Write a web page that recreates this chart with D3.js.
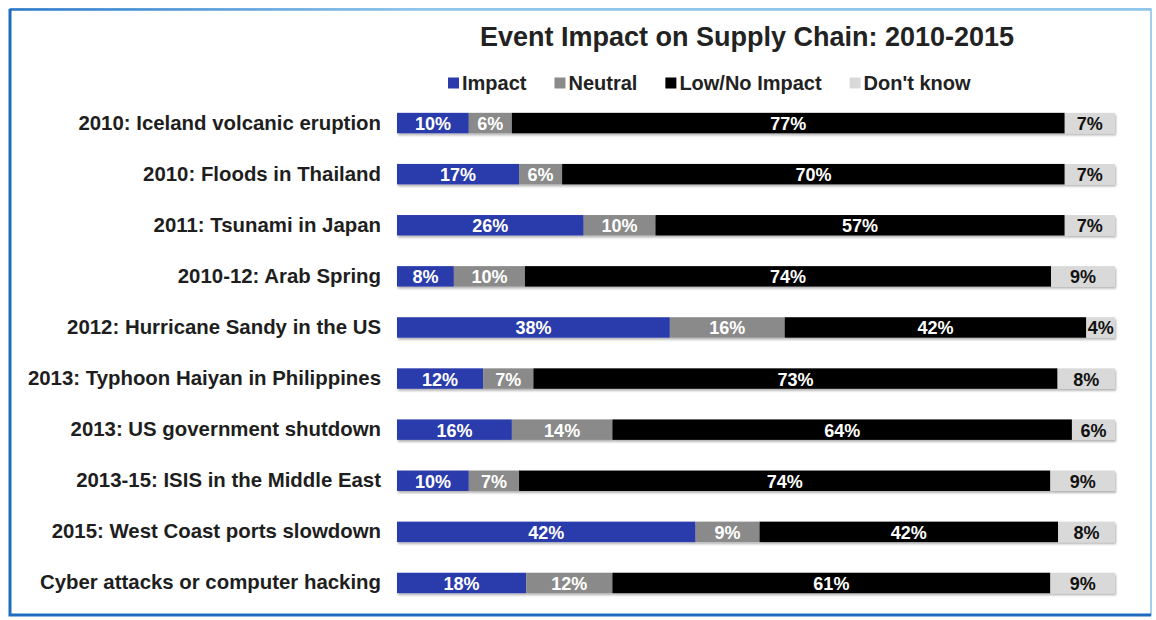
<!DOCTYPE html>
<html>
<head>
<meta charset="utf-8">
<script src="https://cdn.jsdelivr.net/npm/d3@7/dist/d3.min.js"></script>
<style>
  html, body { margin: 0; padding: 0; background: #ffffff; }
  svg { display: block; font-family: "Liberation Sans", Arial, sans-serif; }
</style>
</head>
<body>
<svg id="chart" width="1156" height="620"></svg>
<script>
// Survey results: share of respondents per event (percent)
const categories = [
  "2010: Iceland volcanic eruption",
  "2010: Floods in Thailand",
  "2011: Tsunami in Japan",
  "2010-12: Arab Spring",
  "2012: Hurricane Sandy in the US",
  "2013: Typhoon Haiyan in Philippines",
  "2013: US government shutdown",
  "2013-15: ISIS in the Middle East",
  "2015: West Coast ports slowdown",
  "Cyber attacks or computer hacking"
];
const impact    = [10, 17, 26, 8, 38, 12, 16, 10, 42, 18];
const neutral   = [6, 6, 10, 10, 16, 7, 14, 7, 9, 12];
const lowImpact = [77, 70, 57, 74, 42, 73, 64, 74, 42, 61];
const dontKnow  = [7, 7, 7, 9, 4, 8, 6, 9, 8, 9];

const seriesNames = ["Impact", "Neutral", "Low/No Impact", "Don't know"];
const seriesColors = ["#2b3bab", "#8a8a8a", "#000000", "#d9d9d9"];
const labelColors = ["#ffffff", "#ffffff", "#ffffff", "#111111"];
const titleText = "Event Impact on Supply Chain: 2010-2015";

const svg = d3.select("#chart");
const defs = svg.append("defs");

// Frame: light outline, darker left/bottom edges, top edge fading out
const grad = defs.append("linearGradient").attr("id", "topEdge")
  .attr("gradientUnits", "userSpaceOnUse")
  .attr("x1", 10).attr("y1", 0).attr("x2", 420).attr("y2", 0);
grad.append("stop").attr("offset", "0%").attr("stop-color", "#2a78c8");
grad.append("stop").attr("offset", "100%").attr("stop-color", "#8cc4ec");

svg.append("rect")
  .attr("x", 10).attr("y", 9).attr("width", 1141).attr("height", 606)
  .attr("fill", "#ffffff").attr("stroke", "#86bfea").attr("stroke-width", 1.5);
svg.append("line")
  .attr("x1", 10).attr("y1", 9.5).attr("x2", 1151).attr("y2", 9.5)
  .attr("stroke", "url(#topEdge)").attr("stroke-width", 2.5);
svg.append("path")
  .attr("d", "M10,9 L10,615 L1151,615")
  .attr("fill", "none").attr("stroke", "#1f6cbf").attr("stroke-width", 3);

// Shadow under the bars
const f = defs.append("filter").attr("id", "barShadow")
  .attr("x", "-5%").attr("y", "-30%").attr("width", "110%").attr("height", "170%");
f.append("feDropShadow").attr("dx", 1).attr("dy", 2)
  .attr("stdDeviation", 1.2).attr("flood-color", "#000").attr("flood-opacity", 0.3);

// Build rows: normalised to 100% like a 100% stacked bar
const rows = categories.map((c, i) => {
  const vals = [impact[i], neutral[i], lowImpact[i], dontKnow[i]];
  const total = d3.sum(vals);
  let acc = 0;
  const segs = vals.map((v, k) => {
    const s = { key: k, value: v, x0: acc / total * 100, x1: (acc + v) / total * 100 };
    acc += v;
    return s;
  });
  return { category: c, segs };
});

const x = d3.scaleLinear().domain([0, 100]).range([397, 1115]);
const y = d3.scaleBand().domain(categories).range([97.5, 608.5])
  .paddingInner(0.6).paddingOuter(0.3);

// Title
svg.append("text")
  .attr("x", 747).attr("y", 46)
  .attr("text-anchor", "middle")
  .attr("font-size", 27).attr("font-weight", "bold").attr("fill", "#222")
  .text(titleText);

// Legend
const legend = svg.append("g");
let lx = 448;
seriesNames.forEach((name, k) => {
  legend.append("rect")
    .attr("x", lx).attr("y", 77.5).attr("width", 11).attr("height", 11)
    .attr("fill", seriesColors[k]);
  const t = legend.append("text")
    .attr("x", lx + 14).attr("y", 83)
    .attr("dominant-baseline", "central")
    .attr("font-size", 20).attr("font-weight", "bold").attr("fill", "#222")
    .text(name);
  lx += 14 + t.node().getComputedTextLength() + 28;
});

// Category axis labels
const yAxis = svg.append("g")
  .attr("transform", "translate(381,0)")
  .call(d3.axisLeft(y).tickSize(0).tickPadding(0));
yAxis.select(".domain").remove();
yAxis.selectAll("text")
  .attr("font-size", 20.4).attr("font-weight", "bold").attr("fill", "#1e1e1e")
  .attr("font-family", "Liberation Sans, Arial, sans-serif");

// Bars
const rowG = svg.append("g").selectAll("g.row")
  .data(rows).join("g")
  .attr("class", "row")
  .attr("transform", d => `translate(0,${y(d.category)})`);

rowG.append("g").attr("filter", "url(#barShadow)")
  .selectAll("rect").data(d => d.segs).join("rect")
  .attr("x", s => x(s.x0))
  .attr("width", s => x(s.x1) - x(s.x0))
  .attr("y", 0)
  .attr("height", y.bandwidth())
  .attr("fill", s => seriesColors[s.key]);

rowG.selectAll("text.val").data(d => d.segs).join("text")
  .attr("class", "val")
  .attr("x", s => (x(s.x0) + x(s.x1)) / 2)
  .attr("y", y.bandwidth() / 2 + 1)
  .attr("text-anchor", "middle")
  .attr("dominant-baseline", "central")
  .attr("font-size", 18).attr("font-weight", "bold")
  .attr("fill", s => labelColors[s.key])
  .text(s => s.value + "%");
</script>
</body>
</html>
